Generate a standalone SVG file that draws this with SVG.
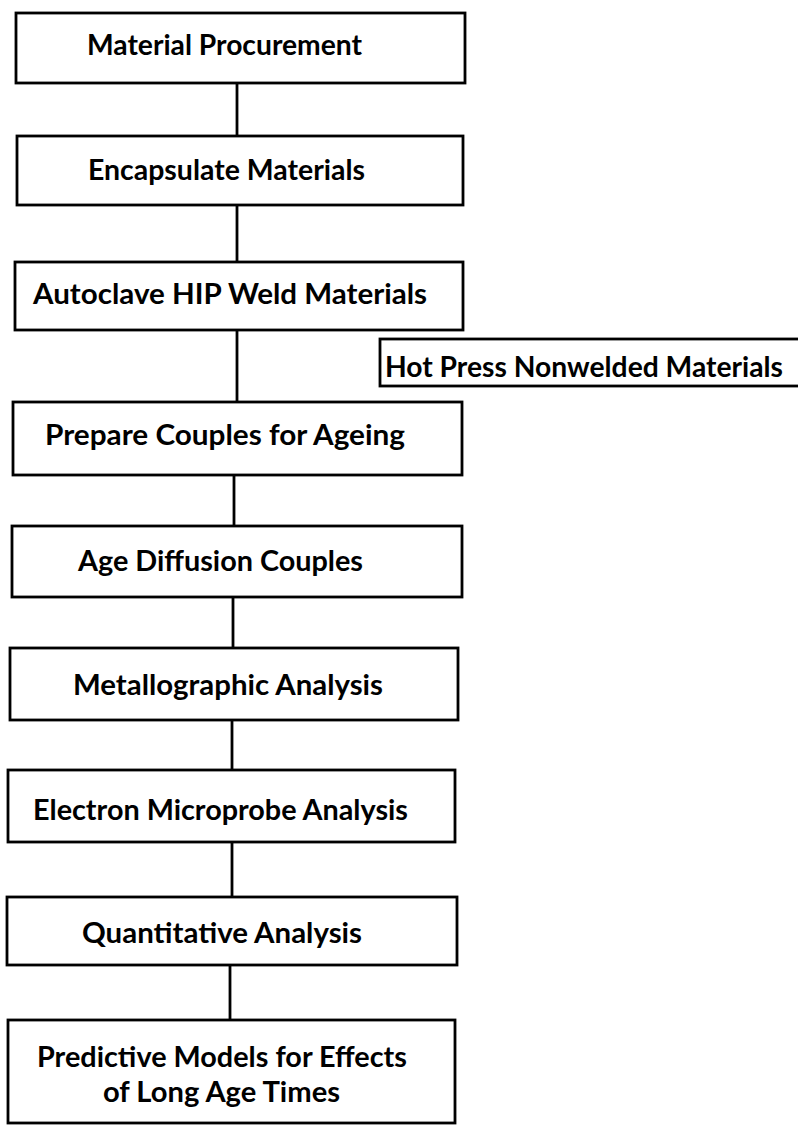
<svg xmlns="http://www.w3.org/2000/svg" width="798" height="1127" viewBox="0 0 798 1127">
<style>
.box{fill:#fff;stroke:#000;stroke-width:2.8}
.lbl{font-family:Lato,"Liberation Sans",sans-serif;font-size:29px;font-weight:bold;fill:#000}
.con{stroke:#000;stroke-width:2.8;fill:none}
</style>
<rect width="798" height="1127" fill="#fff"/>
<g id="connectors">
<line class="con" x1="237" y1="83" x2="237" y2="136"/>
<line class="con" x1="237" y1="205" x2="237" y2="262"/>
<line class="con" x1="237" y1="330" x2="237" y2="402"/>
<line class="con" x1="234" y1="475" x2="234" y2="526"/>
<line class="con" x1="233" y1="597" x2="233" y2="648"/>
<line class="con" x1="232" y1="720" x2="232" y2="770"/>
<line class="con" x1="232" y1="842" x2="232" y2="897"/>
<line class="con" x1="230" y1="965" x2="230" y2="1020"/>
</g>
<g id="n1"><rect class="box" x="16" y="13" width="449" height="70"/><text class="lbl" x="87" y="55" textLength="275" lengthAdjust="spacingAndGlyphs">Material Procurement</text></g>
<g id="n2"><rect class="box" x="17" y="136" width="446" height="69"/><text class="lbl" x="88" y="180" textLength="277" lengthAdjust="spacingAndGlyphs">Encapsulate Materials</text></g>
<g id="n3"><rect class="box" x="15" y="262" width="448" height="68"/><text class="lbl" x="33" y="304" textLength="394" lengthAdjust="spacingAndGlyphs">Autoclave HIP Weld Materials</text></g>
<g id="n3b"><rect class="box" x="380" y="339" width="422" height="47"/><text class="lbl" x="385" y="377" textLength="398" lengthAdjust="spacingAndGlyphs">Hot Press Nonwelded Materials</text></g>
<g id="n4"><rect class="box" x="13" y="402" width="449" height="73"/><text class="lbl" x="45" y="445" textLength="360" lengthAdjust="spacingAndGlyphs">Prepare Couples for Ageing</text></g>
<g id="n5"><rect class="box" x="12" y="526" width="450" height="71"/><text class="lbl" x="78" y="571" textLength="285" lengthAdjust="spacingAndGlyphs">Age Diffusion Couples</text></g>
<g id="n6"><rect class="box" x="10" y="648" width="448" height="72"/><text class="lbl" x="73" y="695" textLength="310" lengthAdjust="spacingAndGlyphs">Metallographic Analysis</text></g>
<g id="n7"><rect class="box" x="8" y="770" width="447" height="72"/><text class="lbl" x="33" y="820" textLength="375" lengthAdjust="spacingAndGlyphs">Electron Microprobe Analysis</text></g>
<g id="n8"><rect class="box" x="7" y="897" width="450" height="68"/><text class="lbl" x="82" y="943" textLength="280" lengthAdjust="spacingAndGlyphs">Quantitative Analysis</text></g>
<g id="n9"><rect class="box" x="8" y="1020" width="447" height="103"/><text class="lbl" x="37" y="1067" textLength="370" lengthAdjust="spacingAndGlyphs">Predictive Models for Effects</text><text class="lbl" x="103" y="1102" textLength="237" lengthAdjust="spacingAndGlyphs">of Long Age Times</text></g>
</svg>
